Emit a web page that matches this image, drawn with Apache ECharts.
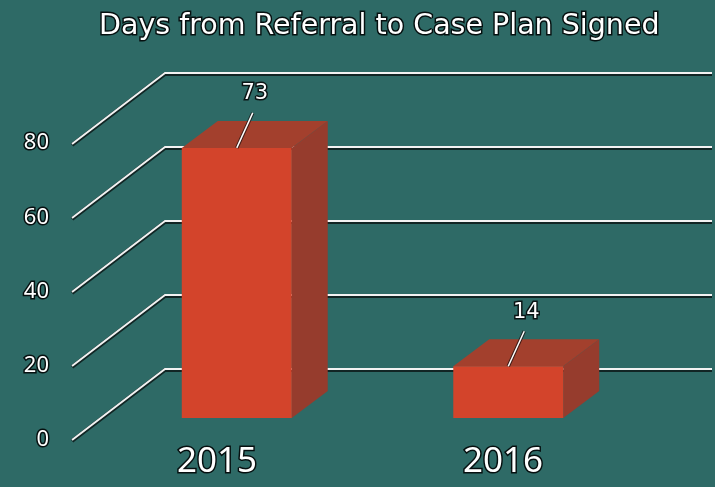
<!DOCTYPE html>
<html><head><meta charset="utf-8">
<script src="https://cdn.jsdelivr.net/npm/echarts@6/dist/echarts.min.js"></script>
<style>html,body{margin:0;padding:0;background:#2e6a66;} #c{width:715px;height:487px;}</style>
</head><body><div id="c"></div>
<script>
const categories = ['2015', '2016'];
const days = [73, 14];
const yTicks = [0, 20, 40, 60, 80];
const titleText = 'Days from Referral to Case Plan Signed';

const BACK = [64, -49], FRONT = [-29, 22], DEPTH = [36, -27];
const chart = echarts.init(document.getElementById('c'));

function gridRender(params, api) {
  const cs = params.coordSys;
  const y = api.coord([0, api.value(1)])[1];
  const pts = [[cs.x + FRONT[0], y + FRONT[1]], [cs.x + BACK[0], y + BACK[1]], [712, y + BACK[1]]];
  const sh = pts.map(p => [p[0], p[1] + 1]);
  return {type: 'group', children: [
    {type: 'polyline', shape: {points: sh}, style: {stroke: 'rgba(10,20,20,0.8)', lineWidth: 4, fill: null}},
    {type: 'polyline', shape: {points: pts}, style: {stroke: '#f2f2f2', lineWidth: 2, fill: null}}
  ]};
}

function barRender(params, api) {
  const idx = api.value(0), v = api.value(1);
  const top = api.coord([idx, v]), base = api.coord([idx, 0]);
  const w = api.size([1, 0])[0] * 0.405;
  const x0 = top[0] - w / 2, x1 = top[0] + w / 2;
  const yT = top[1], yB = base[1];
  const dx = DEPTH[0], dy = DEPTH[1];
  const lx = top[0], ly = yT;
  const lead = [[lx, ly], [lx + 16, ly - 35]];
  return {type: 'group', children: [
    {type: 'polygon', shape: {points: [[x0, yT], [x0 + dx, yT + dy], [x1 + dx, yT + dy], [x1, yT]]}, style: {fill: '#a3402d'}},
    {type: 'polygon', shape: {points: [[x1, yT], [x1 + dx, yT + dy], [x1 + dx, yB + dy], [x1, yB]]}, style: {fill: '#963c2d'}},
    {type: 'rect', shape: {x: x0, y: yT, width: w, height: yB - yT}, style: {fill: '#d3442b'}},
    {type: 'polyline', shape: {points: lead}, style: {stroke: 'rgba(20,10,10,0.7)', lineWidth: 3.5, fill: null}},
    {type: 'polyline', shape: {points: lead}, style: {stroke: '#ffffff', lineWidth: 1.5, fill: null}},
    {type: 'text', style: {text: String(v), x: lx + 18, y: ly - 54, align: 'center', verticalAlign: 'middle',
      fill: '#fff', font: '21px "DejaVu Sans"', stroke: '#0a1414', lineWidth: 3}}
  ]};
}

chart.setOption({
  backgroundColor: '#2e6a66',
  title: {text: titleText, left: 94, top: 7,
    textStyle: {color: '#fff', fontFamily: 'DejaVu Sans', fontWeight: 'normal', fontSize: 28.5,
      textBorderColor: '#061010', textBorderWidth: 3}},
  grid: [
    {left: 101, right: 71, top: 122, bottom: 69},
    {left: 74, right: 69, top: 143, bottom: 47}
  ],
  xAxis: [
    {type: 'category', data: categories, gridIndex: 0, show: false},
    {type: 'category', data: categories, gridIndex: 1, axisLine: {show: false}, axisTick: {show: false},
      axisLabel: {margin: 5, color: '#fff', fontFamily: 'Noto Sans', fontSize: 35,
        textBorderColor: '#061010', textBorderWidth: 3}}
  ],
  yAxis: [
    {type: 'value', min: 0, max: 80, interval: 20, gridIndex: 0, show: false},
    {type: 'value', min: 0, max: 80, interval: 20, gridIndex: 1, splitLine: {show: false},
      axisLine: {show: false}, axisTick: {show: false},
      axisLabel: {margin: 25, color: '#fff', fontFamily: 'Noto Sans', fontSize: 22,
        textBorderColor: '#061010', textBorderWidth: 3}}
  ],
  series: [
    {type: 'custom', xAxisIndex: 0, yAxisIndex: 0, z: 1, silent: true,
      data: yTicks.map(v => [0, v]), renderItem: gridRender},
    {type: 'custom', xAxisIndex: 0, yAxisIndex: 0, z: 2, silent: true,
      data: days.map((v, i) => [i, v]), renderItem: barRender}
  ]
});
</script></body></html>
